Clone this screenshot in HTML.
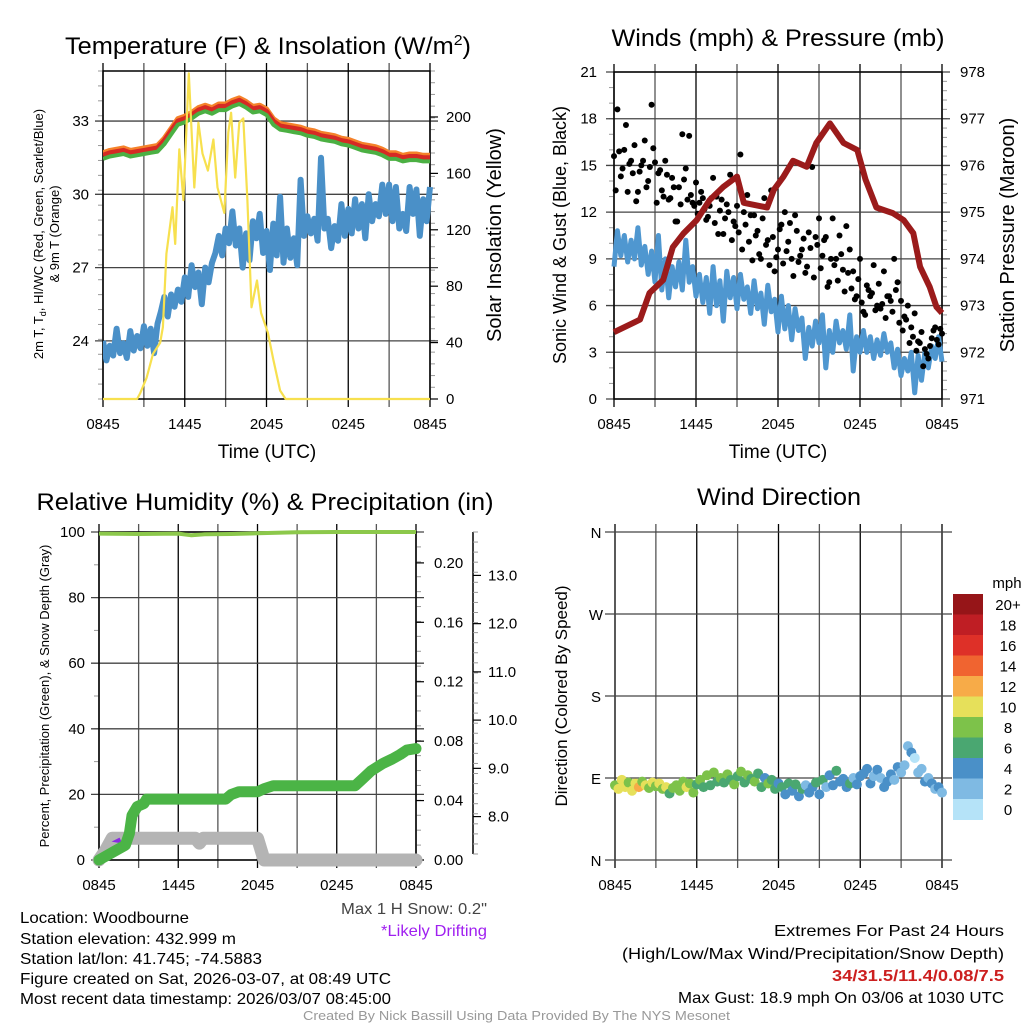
<!DOCTYPE html>
<html><head><meta charset="utf-8">
<style>
html,body{margin:0;padding:0;background:#fff;}
svg{display:block;font-family:"Liberation Sans",sans-serif;}
</style></head>
<body>
<svg id="fig" width="1024" height="1024" viewBox="0 0 1024 1024" xmlns="http://www.w3.org/2000/svg">
<g id="layer"></g>
<!-- titles -->
<text x="268" y="54" font-size="24" text-anchor="middle" textLength="406" lengthAdjust="spacingAndGlyphs">Temperature (F) &amp; Insolation (W/m<tspan dy="-9" font-size="15">2</tspan><tspan dy="9">)</tspan></text>
<text x="778" y="46" font-size="24" text-anchor="middle" textLength="333" lengthAdjust="spacingAndGlyphs">Winds (mph) &amp; Pressure (mb)</text>
<text x="265" y="510" font-size="24" text-anchor="middle" textLength="457" lengthAdjust="spacingAndGlyphs">Relative Humidity (%) &amp; Precipitation (in)</text>
<text x="779" y="505" font-size="24" text-anchor="middle" textLength="164" lengthAdjust="spacingAndGlyphs">Wind Direction</text>
<!-- axis titles -->
<text x="267" y="458" font-size="19" text-anchor="middle">Time (UTC)</text>
<text x="778" y="458" font-size="19" text-anchor="middle">Time (UTC)</text>
<text transform="translate(43,234) rotate(-90)" font-size="13" text-anchor="middle">2m T, T<tspan font-size="9" dy="3">d</tspan><tspan dy="-3">, HI/WC (Red, Green, Scarlet/Blue)</tspan></text>
<text transform="translate(59,234) rotate(-90)" font-size="13" text-anchor="middle">&amp; 9m T (Orange)</text>
<text transform="translate(501,235) rotate(-90)" font-size="20" text-anchor="middle">Solar Insolation (Yellow)</text>
<text transform="translate(566,235) rotate(-90)" font-size="18" text-anchor="middle">Sonic Wind &amp; Gust (Blue, Black)</text>
<text transform="translate(1014,235) rotate(-90)" font-size="20" text-anchor="middle">Station Pressure (Maroon)</text>
<text transform="translate(49,696) rotate(-90)" font-size="13" text-anchor="middle">Percent, Precipitation (Green), &amp; Snow Depth (Gray)</text>
<text transform="translate(567,696) rotate(-90)" font-size="17" text-anchor="middle">Direction (Colored By Speed)</text>
<!-- footer -->
<g font-size="16">
<text x="20" y="923" textLength="169" lengthAdjust="spacingAndGlyphs">Location: Woodbourne</text>
<text x="20" y="944" textLength="216" lengthAdjust="spacingAndGlyphs">Station elevation: 432.999 m</text>
<text x="20" y="964" textLength="242" lengthAdjust="spacingAndGlyphs">Station lat/lon: 41.745; -74.5883</text>
<text x="20" y="984" textLength="371" lengthAdjust="spacingAndGlyphs">Figure created on Sat, 2026-03-07, at 08:49 UTC</text>
<text x="20" y="1004" textLength="371" lengthAdjust="spacingAndGlyphs">Most recent data timestamp: 2026/03/07 08:45:00</text>
<text x="341" y="914" fill="#444" textLength="146" lengthAdjust="spacingAndGlyphs">Max 1 H Snow: 0.2"</text>
<text x="381" y="936" fill="#a020f0" textLength="106" lengthAdjust="spacingAndGlyphs">*Likely Drifting</text>
<text x="774" y="936" textLength="230" lengthAdjust="spacingAndGlyphs">Extremes For Past 24 Hours</text>
<text x="622" y="959" textLength="382" lengthAdjust="spacingAndGlyphs">(High/Low/Max Wind/Precipitation/Snow Depth)</text>
<text x="832" y="981" fill="#cc1f1f" font-weight="bold" textLength="172" lengthAdjust="spacingAndGlyphs">34/31.5/11.4/0.08/7.5</text>
<text x="678" y="1003" textLength="326" lengthAdjust="spacingAndGlyphs">Max Gust: 18.9 mph On 03/06 at 1030 UTC</text>
</g>
<text x="303" y="1020" font-size="12.5" fill="#999" textLength="427" lengthAdjust="spacingAndGlyphs">Created By Nick Bassill Using Data Provided By The NYS Mesonet</text>
</svg>
<script>
// ---------- data ----------
const xTickLabels = ["0845","1445","2045","0245","0845"];
const tempHours = [0,0.5,1,1.5,2,2.5,3,3.5,4,4.5,5,5.5,6,6.5,7,7.5,8,8.5,9,9.5,10,10.5,11,11.5,12,12.5,13,13.5,14,14.5,15,15.5,16,16.5,17,17.5,18,18.5,19,19.5,20,20.5,21,21.5,22,22.5,23,23.5,24];
const tempRed = [31.6,31.7,31.75,31.8,31.7,31.75,31.8,31.85,31.9,32.2,32.6,33.0,33.1,33.25,33.45,33.55,33.45,33.6,33.6,33.75,33.85,33.7,33.5,33.55,33.4,33.0,32.8,32.75,32.7,32.65,32.55,32.5,32.4,32.35,32.3,32.2,32.15,32.05,31.95,31.9,31.85,31.75,31.6,31.6,31.5,31.55,31.55,31.5,31.5];
const tempGreenOffset = -0.15;
const tempOrangeOffset = 0.1;
const dewpoint = [24.0,23.2,23.8,23.4,24.5,23.5,23.9,23.3,24.4,23.6,24.2,23.7,24.6,
 23.8,24.5,23.5,24.7,25.2,25.8,25.0,25.9,25.4,26.1,25.6,26.6,
 25.8,27.1,26.2,26.8,25.5,27.0,26.4,27.2,27.6,28.3,27.5,28.6,
 28.0,29.3,27.9,28.6,27.0,28.4,27.3,28.9,28.2,29.2,27.6,28.5,
 26.9,28.8,27.5,29.9,27.2,28.6,27.4,28.2,27.1,30.6,28.3,29.1,
 28.4,29.0,28.1,31.5,28.6,29.0,27.8,28.7,28.1,29.6,28.3,29.4,
 28.4,29.8,28.6,29.6,28.2,30.0,28.9,29.6,29.1,30.4,29.2,30.4,
 28.9,30.3,28.6,29.2,28.5,30.3,29.2,30.2,28.3,29.8,28.9,30.3];
const solarHours = [0,2.5,2.72,3.2,3.67,4.2,4.4,4.65,5.1,5.3,5.6,5.9,6.3,6.7,7.0,7.3,7.7,8.1,8.4,8.9,9.2,9.4,9.7,10.0,10.3,10.6,10.9,11.3,11.6,12.1,12.5,13.0,13.4,24];
const solarValues = [0,0,4,15,32,40,51,103,136,110,177,141,231,150,196,174,162,184,150,132,189,203,157,196,199,141,65,84,61,47,28,6,0,0];
const windSpeed = [8.5,10.8,9.2,10.5,8.8,10.2,9.0,11.0,8.6,9.8,8.0,9.5,7.5,
 10.5,7.0,9.0,6.5,8.5,7.2,8.8,7.0,10.2,7.5,8.5,6.6,
 8.0,6.2,7.8,5.5,8.5,6.0,7.6,5.0,8.2,6.5,7.8,5.8,
 8.0,6.4,7.2,5.5,7.6,5.8,6.8,4.8,7.3,5.6,6.4,4.3,
 6.6,4.5,6.0,3.8,5.8,4.4,5.2,2.6,4.6,3.4,5.0,3.6,
 5.4,2.0,4.4,3.0,5.0,3.6,4.4,3.2,5.4,1.8,4.0,3.0,
 4.4,3.0,4.0,2.6,3.8,2.8,4.2,3.0,3.6,2.0,3.2,1.5,
 2.6,1.8,3.0,0.4,2.8,1.2,3.0,2.0,3.4,2.6,4.0,2.4];
const windGust = [15.6,18.6,14.3,16.0,13.3,15.3,16.3,13.3,15.0,16.6,14.0,18.9,15.2,
 14.5,13.4,15.3,12.8,14.2,11.4,13.6,17.0,14.8,16.9,12.6,13.9,
 12.6,12.9,11.5,12.4,14.2,13.0,12.1,10.6,12.5,14.4,11.4,12.4,
 15.7,12.0,13.1,11.8,11.8,10.8,9.0,12.9,10.2,13.4,8.2,9.6,
 11.2,12.0,10.1,9.0,11.8,8.8,9.6,8.1,10.7,14.9,10.4,11.6,
 9.2,10.4,7.5,11.6,9.0,10.5,8.3,11.1,9.6,8.2,6.6,9.0,
 5.6,7.3,6.6,8.6,6.0,5.8,8.2,6.6,6.3,9.0,7.5,6.3,
 5.3,6.0,4.6,5.5,3.7,4.3,3.2,2.6,3.9,4.6,3.5,4.2];
const windGustExtra = [13.4,15.9,14.8,17.6,15.1,14.5,12.7,14.6,15.3,13.6,14.9,16.1,
 12.6,14.7,13.0,14.4,12.9,13.6,11.4,12.5,14.1,12.8,13.1,12.4,
 11.9,13.3,12.2,11.7,12.9,11.3,10.6,12.8,11.6,12.0,10.2,11.1,
 10.7,9.6,11.2,10.1,8.9,10.5,9.3,11.6,9.9,8.6,10.4,9.1,
 10.9,8.7,9.5,11.3,7.9,10.8,9.2,10.3,8.5,9.7,7.8,9.9,
 8.4,10.2,7.2,9.0,8.6,7.6,9.3,6.9,8.1,7.1,6.4,7.7,
 6.2,5.4,7.0,6.8,5.7,7.4,6.1,5.2,6.6,5.6,7.0,4.9,
 4.4,5.1,3.6,4.0,3.1,3.6,2.1,2.9,3.4,4.4,3.8,4.5];
const pressHours = [0,1.9,2.6,3.6,4.3,5.1,6.05,7.0,8.0,9.0,9.5,11.2,11.7,12.4,13.1,14.1,14.8,15.8,16.8,17.8,18.4,19.2,20.4,21.2,21.9,22.4,23.1,23.6,24];
const pressValues = [972.43,972.7,973.27,973.55,974.25,974.55,974.83,975.26,975.54,975.76,975.2,975.1,975.48,975.76,976.1,975.97,976.48,976.9,976.48,976.33,975.7,975.1,974.98,974.83,974.55,973.83,973.4,972.97,972.84];
const rhHours = [0,3,6,7,8,10,12,15,18,24];
const rhValues = [99.5,99.4,99.5,99.0,99.3,99.4,99.6,99.9,100,100];
const precipHours = [0,0.4,1.2,2.0,2.3,2.5,2.9,3.4,3.6,9.6,10.0,10.6,12.0,12.5,13.2,19.4,20.0,20.6,21.5,22.2,22.8,23.3,24];
const precipValues = [0,0.002,0.006,0.01,0.018,0.03,0.036,0.038,0.041,0.041,0.044,0.046,0.046,0.048,0.05,0.05,0.055,0.06,0.065,0.068,0.071,0.074,0.075];
const snowHours = [0,0.5,1.0,7.3,7.6,7.9,12.0,12.5,24];
const snowValues = [7.1,7.3,7.55,7.55,7.45,7.55,7.55,7.1,7.1];
const windDir = [82,78,88,80,85,76,84,80,86,82,79,85,81,
 84,78,80,73,79,82,76,86,80,84,74,83,
 88,80,93,82,96,86,90,85,94,88,83,92,
 97,85,93,89,86,95,80,90,84,88,78,84,
 80,72,84,76,83,70,78,82,74,80,85,72,
 88,80,93,82,98,86,89,80,84,90,83,92,
 95,100,84,92,99,90,80,86,94,88,102,96,
 104,125,118,112,96,100,86,90,84,78,80,74];
const speedColors = ["#b5e3f8","#7fbae3","#4a90c8","#4aa771","#7dc24a","#e6e05a","#f7ab48","#f06430","#de3028","#bf1e24","#961518"];
const speedLabels = ["0","2","4","6","8","10","12","14","16","18","20+"];
const tempTicks = [24,27,30,33];
const solarTicks = [0,40,80,120,160,200];
const windTicks = [0,3,6,9,12,15,18,21];
const pressTicks = [971,972,973,974,975,976,977,978];
const rhTicks = [0,20,40,60,80,100];
const precipTicks = ["0.00","0.04","0.08","0.12","0.16","0.20"];
const snowTicks = ["8.0","9.0","10.0","11.0","12.0","13.0"];
const dirTicks = ["N","E","S","W","N"];

// ---------- helpers ----------
const NS="http://www.w3.org/2000/svg";
const layer=document.getElementById('layer');
function mk(tag,attrs,parent){const e=document.createElementNS(NS,tag);for(const k in attrs)e.setAttribute(k,attrs[k]);(parent||layer).appendChild(e);return e;}
function lin(d0,d1,r0,r1){return v=>r0+(v-d0)/(d1-d0)*(r1-r0);}
function txt(x,y,s,anchor,size,parent){const t=mk('text',{x:x,y:y,'font-size':size||15,'text-anchor':anchor||'middle'},parent);t.textContent=s;return t;}
function pathFrom(xs,ys,X,Y){return xs.map((h,i)=>(i?'L':'M')+X(h).toFixed(1)+' '+Y(ys[i]).toFixed(1)).join(' ');}
function hoursOf(arr){return arr.map((_,i)=>i*24/(arr.length-1));}

function panel(name,L,R,T,B,opts){
  const g=mk('g',{});
  
  
  const X=lin(0,24,L,R);
  for(let h=0;h<=24;h+=3){
    const x=X(h);
    const l=mk('line',{x1:x,x2:x,y1:T-8,y2:B+8,stroke:(h%6===0?'#000':'#555'),'stroke-width':1.3},g);
    
    
  }
  if(opts.xlabels){
    xTickLabels.forEach((s,i)=>{const t=txt(X(i*6),B+30,s,'middle',15,g);
      
      });
  }
  return {g:g,X:X};
}
function hgrid(g,L,R,y,ext){const l=mk('line',{x1:L-(ext||8),x2:R+8,y1:y,y2:y,stroke:'#444','stroke-width':1.3},g);
  
  }
function minorTicks(g,x,T,B,n,dir){for(let i=0;i<=n;i++){const y=T+(B-T)*i/n;mk('line',{x1:x,x2:x+dir*5,y1:y,y2:y,stroke:'#999','stroke-width':1},g);}}

// ========== Panel 1: temperature ==========
(function(){
  const L=103,R=430,T=71,B=399;
  const p=panel('temp',L,R,T,B,{xlabels:true});
  const Y=lin(21.62,35.05,B,T), S=lin(0,232.6,B,T);
  minorTicks(p.g,L,T,B,22,-1); minorTicks(p.g,R,T,B,28,1);
  tempTicks.forEach(v=>{hgrid(p.g,L,R,Y(v));const t=txt(L-14,Y(v)+5,String(v),'end',15,p.g);
    
    });
  solarTicks.forEach(v=>{mk('line',{x1:R,x2:R+8,y1:S(v),y2:S(v),stroke:'#000','stroke-width':1.2},p.g);
    const t=txt(R+16,S(v)+5,String(v),'start',15,p.g);
    
    });
  const b=mk('rect',{x:L,y:T,width:R-L,height:B-T,fill:'none',stroke:'#000','stroke-width':1.5},p.g);
  
  
  const X=p.X;
  const cg=mk('g',{'clip-path':'url(#c1)'});
  const cp=mk('clipPath',{id:'c1'});mk('rect',{x:L,y:T-10,width:R-L+3,height:B-T+12},cp);
  let e;
  e=mk('path',{d:pathFrom(hoursOf(dewpoint),dewpoint,X,Y),fill:'none',stroke:'#4a90c8','stroke-width':6,'stroke-linejoin':'round'},cg);
  
  
  e=mk('path',{d:pathFrom(tempHours,tempRed.map(v=>v+tempOrangeOffset),X,Y),fill:'none',stroke:'#f5822a','stroke-width':5,'stroke-linejoin':'round'},cg);
  
  
  e=mk('path',{d:pathFrom(tempHours,tempRed,X,Y),fill:'none',stroke:'#d62a24','stroke-width':5,'stroke-linejoin':'round'},cg);
  
  
  e=mk('path',{d:pathFrom(tempHours,tempRed.map(v=>v+tempGreenOffset),X,Y),fill:'none',stroke:'#4bb043','stroke-width':4,'stroke-linejoin':'round'},cg);
  
  
  e=mk('path',{d:pathFrom(solarHours,solarValues,X,S),fill:'none',stroke:'#f7e04e','stroke-width':2.2,'stroke-linejoin':'round'},cg);
  
  
})();

// ========== Panel 2: winds ==========
(function(){
  const L=614,R=942,T=72,B=399;
  const p=panel('wind',L,R,T,B,{xlabels:true});
  const Y=lin(0,21,B,T), P=lin(971,978,B,T);
  minorTicks(p.g,L,T,B,21,-1); minorTicks(p.g,R,T,B,35,1);
  windTicks.forEach(v=>{hgrid(p.g,L,R,Y(v));const t=txt(L-17,Y(v)+5,String(v),'end',15,p.g);
    
    });
  pressTicks.forEach(v=>{const t=txt(R+18,P(v)+5,String(v),'start',15,p.g);
    
    });
  const b=mk('rect',{x:L,y:T,width:R-L,height:B-T,fill:'none',stroke:'#000','stroke-width':1.5},p.g);
  
  
  const X=p.X;
  let e=mk('path',{d:pathFrom(hoursOf(windSpeed),windSpeed,X,Y),fill:'none',stroke:'#4f97d0','stroke-width':5,'stroke-linejoin':'round'});
  
  
  const gh=hoursOf(windGust);
  windGust.forEach((v,i)=>{const c=mk('circle',{cx:X(gh[i]),cy:Y(v),r:3,fill:'#000'});
    
    });
  windGustExtra.forEach((v,i)=>{const c=mk('circle',{cx:X(0.125+i*0.25),cy:Y(v),r:3,fill:'#000'});
    
    });
  e=mk('path',{d:pathFrom(pressHours,pressValues,X,P),fill:'none',stroke:'#9b1b1b','stroke-width':6,'stroke-linejoin':'round'});
  
  
})();

// ========== Panel 3: RH / precip ==========
(function(){
  const L=99,R=416,T=532,B=860;
  const p=panel('rh',L,R,T,B,{xlabels:true});
  const Y=lin(0,100,B,T), Pr=lin(0,0.2208,B,T), Sn=lin(7.1,13.9,B,T);
  minorTicks(p.g,L,T,B,10,-1); minorTicks(p.g,R,T,B,22,1);
  rhTicks.forEach(v=>{hgrid(p.g,L,R,Y(v));const t=txt(L-14,Y(v)+5,String(v),'end',15,p.g);
    
    });
  precipTicks.forEach(s=>{const v=parseFloat(s);mk('line',{x1:R,x2:R+8,y1:Pr(v),y2:Pr(v),stroke:'#000','stroke-width':1.2},p.g);
    const t=txt(R+18,Pr(v)+5,s,'start',15,p.g);
    
    });
  const ax=mk('line',{x1:473,x2:473,y1:T,y2:B-6,stroke:'#000','stroke-width':1.5},p.g);
  
  
  minorTicks(p.g,473,T,B-6,32,1);
  snowTicks.forEach(s=>{const v=parseFloat(s);mk('line',{x1:473,x2:481,y1:Sn(v),y2:Sn(v),stroke:'#000','stroke-width':1.2},p.g);
    const t=txt(488,Sn(v)+5,s,'start',15,p.g);
    
    });
  const b=mk('rect',{x:L,y:T,width:R-L,height:B-T,fill:'none',stroke:'#000','stroke-width':1.5},p.g);
  
  
  const X=p.X;
  let e=mk('path',{d:pathFrom(snowHours,snowValues,X,Sn),fill:'none',stroke:'#b4b4b4','stroke-width':13,'stroke-linejoin':'round','stroke-linecap':'round'});
  
  
  e=mk('path',{d:'M'+X(0.95)+' '+(Y(5)-2)+' l8 -4 l3 6 z',fill:'#8a2be2'});
  
  
  e=mk('path',{d:pathFrom(precipHours,precipValues,X,Pr),fill:'none',stroke:'#4bb446','stroke-width':11,'stroke-linejoin':'round','stroke-linecap':'round'});
  
  
  e=mk('path',{d:pathFrom(rhHours,rhValues,X,Y),fill:'none',stroke:'#8cc84b','stroke-width':4,'stroke-linejoin':'round'});
  
  
})();

// ========== Panel 4: direction ==========
(function(){
  const L=615,R=942,T=532,B=860;
  const p=panel('dir',L,R,T,B,{xlabels:true});
  const Y=lin(0,360,B,T);
  dirTicks.forEach((s,i)=>{hgrid(p.g,L,R+2,Y(i*90),10);const t=txt(596,Y(i*90)+6,s,'middle',15,p.g);
    
    });
  const X=p.X;
  const dh=hoursOf(windDir);
  windDir.forEach((d,i)=>{const s=windSpeed[i];const idx=Math.min(10,Math.max(0,Math.round(s/2)));
    const c=mk('circle',{cx:X(dh[i]),cy:Y(d),r:5,fill:speedColors[idx]});
    
    });
  const lg=mk('g',{});
  
  
  txt(1007,588,'mph','middle',15,lg);
  const bh=20.5, top=594;
  speedColors.slice().reverse().forEach((c,i)=>{
    const r=mk('rect',{x:953,y:top+i*bh,width:30,height:bh+0.5,fill:c},lg);
    
    
    const t=txt(1008,top+i*bh+16,speedLabels[10-i],'middle',15,lg);
    
    
  });
})();
</script>
</body></html>
